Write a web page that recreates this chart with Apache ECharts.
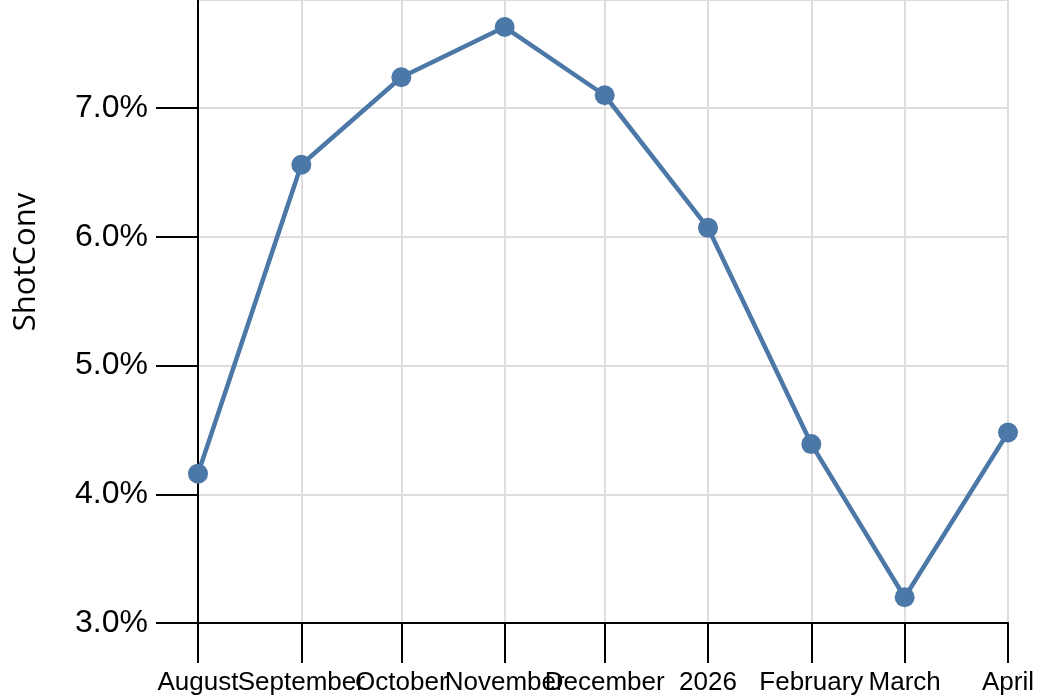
<!DOCTYPE html>
<html>
<head>
<meta charset="utf-8">
<script src="https://cdn.jsdelivr.net/npm/echarts@6/dist/echarts.min.js"></script>
<style>html,body{margin:0;padding:0;background:#fff}#c{width:1044px;height:696px}</style>
</head>
<body>
<div id="c"></div>
<script>
var months = ['2025-08-01','2025-09-01','2025-10-01','2025-11-01','2025-12-01','2026-01-01','2026-02-01','2026-03-01','2026-04-01'];
var shotConv = [4.16, 6.56, 7.24, 7.63, 7.10, 6.07, 4.39, 3.20, 4.48];
var yTicks = [3, 4, 5, 6, 7];
var yTitle = 'ShotConv';

function toTs(s){ var p = s.split('-'); return new Date(+p[0], +p[1]-1, +p[2]).getTime(); }
var data = months.map(function(m,i){ return [toTs(m), shotConv[i]]; });

var chart = echarts.init(document.getElementById('c'));
chart.setOption({
  animation: false,
  grid: { left: 198, right: 36, top: 0, bottom: 73, containLabel: false },
  xAxis: {
    type: 'time',
    min: toTs(months[0]),
    max: toTs(months[months.length-1]),
    splitNumber: 8,
    minInterval: 28*86400000,
    axisLine: { lineStyle: { color: '#000', width: 2 } },
    axisTick: { show: true, length: 40, lineStyle: { color: '#000', width: 2 } },
    splitLine: { show: true, lineStyle: { color: '#dddddd', width: 2 } },
    axisLabel: {
      color: '#000', fontSize: 26, fontFamily: 'Liberation Sans', margin: 47,
      hideOverlap: false,
      showMinLabel: true, showMaxLabel: true,
      formatter: { year: '{yyyy}', month: '{MMMM}', day: '{MMMM}' }
    }
  },
  yAxis: {
    type: 'value',
    min: 3,
    max: 7.84,
    interval: 1,
    axisLine: { show: true, lineStyle: { color: '#000', width: 2 } },
    axisTick: { show: true, length: 42, lineStyle: { color: '#000', width: 2 } },
    splitLine: { show: true, lineStyle: { color: '#dddddd', width: 2 } },
    axisLabel: {
      color: '#000', fontSize: 32, fontFamily: 'Liberation Sans', margin: 50,
      showMaxLabel: false,
      formatter: function(v){ return yTicks.indexOf(Math.round(v*100)/100) >= 0 ? v.toFixed(1) + '%' : ''; }
    }
  },
  graphic: [{
    type: 'text',
    x: 26, y: 262,
    rotation: Math.PI/2,
    style: { text: yTitle, fontSize: 31, fontFamily: 'Open Sans', fill: '#000', align: 'center', verticalAlign: 'middle' }
  }],
  series: [{
    type: 'line',
    data: data,
    symbol: 'circle',
    symbolSize: 20,
    lineStyle: { color: '#4c78a8', width: 4.5 },
    itemStyle: { color: '#4c78a8' }
  }]
});
</script>
</body>
</html>
